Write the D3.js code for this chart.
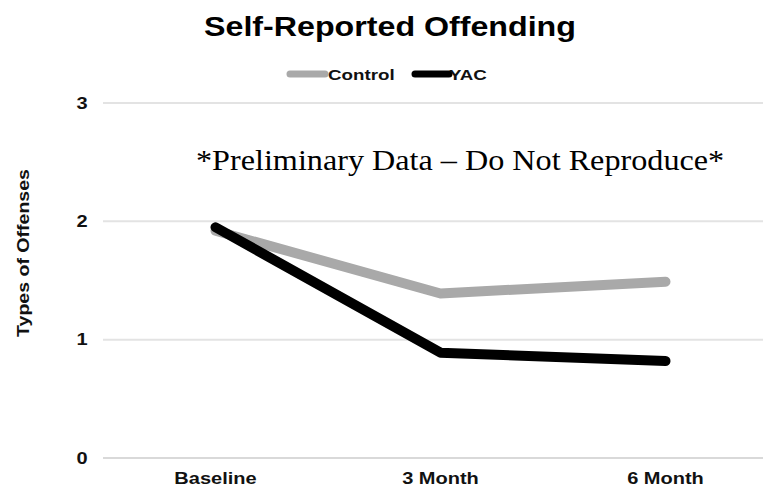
<!DOCTYPE html>
<html>
<head>
<meta charset="utf-8">
<script src="https://cdn.jsdelivr.net/npm/d3@7"></script>
<style>
  html, body { margin: 0; padding: 0; background: #fff; }
  svg { display: block; }
</style>
</head>
<body>
<svg id="chart" width="763" height="487"></svg>
<script>
// Data
const categories = ["Baseline", "3 Month", "6 Month"];
const seriesNames = ["Control", "YAC"];
const controlValues = [1.92, 1.39, 1.49];
const yacValues = [1.95, 0.89, 0.82];
const yTicks = [0, 1, 2, 3];

const colors = { Control: "#a9a9a9", YAC: "#000000" };
const seriesData = [
  { name: "Control", values: controlValues },
  { name: "YAC", values: yacValues }
];

const svg = d3.select("#chart");
const font = "'Liberation Sans', Arial, sans-serif";
const wide = 1.25; // horizontal stretch used for the chart's sans-serif labels

const x = d3.scaleBand().domain(categories).range([103, 778]);
const y = d3.scaleLinear().domain([0, 3]).range([458, 103]);

// Gridlines
svg.append("g")
  .selectAll("line")
  .data(yTicks)
  .join("line")
  .attr("x1", 103).attr("x2", 763)
  .attr("y1", d => y(d)).attr("y2", d => y(d))
  .attr("stroke", d => d === 0 ? "#d9d9d9" : "#e3e3e3")
  .attr("stroke-width", 2);

// Y tick labels
svg.append("g")
  .selectAll("text")
  .data(yTicks)
  .join("text")
  .attr("transform", d => `translate(82,${y(d)}) scale(${wide},1)`)
  .attr("dy", "0.36em")
  .attr("text-anchor", "middle")
  .attr("font-family", font).attr("font-weight", "bold").attr("font-size", 16)
  .attr("fill", "#111")
  .text(d => d);

// X category labels
svg.append("g")
  .selectAll("text")
  .data(categories)
  .join("text")
  .attr("transform", d => `translate(${x(d) + x.bandwidth() / 2},484) scale(${wide},1)`)
  .attr("text-anchor", "middle")
  .attr("font-family", font).attr("font-weight", "bold").attr("font-size", 16)
  .attr("fill", "#111")
  .text(d => d);

// Y axis title
svg.append("text")
  .attr("transform", "translate(29,253) rotate(-90) scale(1.15,1)")
  .attr("text-anchor", "middle")
  .attr("font-family", font).attr("font-weight", "bold").attr("font-size", 17)
  .attr("fill", "#111")
  .text("Types of Offenses");

// Lines
const line = d3.line()
  .x((d, i) => x(categories[i]) + x.bandwidth() / 2)
  .y(d => y(d));

svg.append("g")
  .selectAll("path")
  .data(seriesData)
  .join("path")
  .attr("d", d => line(d.values))
  .attr("fill", "none")
  .attr("stroke", d => colors[d.name])
  .attr("stroke-width", 10)
  .attr("stroke-linecap", "round")
  .attr("stroke-linejoin", "round");

// Title
svg.append("text")
  .attr("transform", "translate(390,36) scale(1.15,1)")
  .attr("text-anchor", "middle")
  .attr("font-family", font).attr("font-weight", "bold").attr("font-size", 28)
  .attr("fill", "#000")
  .text("Self-Reported Offending");

// Legend
const legendItems = [
  { name: "Control", x1: 290, x2: 325, tx: 328 },
  { name: "YAC", x1: 415, x2: 449, tx: 449 }
];
const lg = svg.append("g");
lg.selectAll("line")
  .data(legendItems)
  .join("line")
  .attr("x1", d => d.x1).attr("x2", d => d.x2)
  .attr("y1", 74).attr("y2", 74)
  .attr("stroke", d => colors[d.name])
  .attr("stroke-width", 7)
  .attr("stroke-linecap", "round");
lg.selectAll("text")
  .data(legendItems)
  .join("text")
  .attr("transform", d => `translate(${d.tx},80) scale(${wide},1)`)
  .attr("font-family", font).attr("font-weight", "bold").attr("font-size", 15)
  .attr("fill", "#111")
  .text(d => d.name);

// Annotation
svg.append("text")
  .attr("transform", "translate(196,170) scale(1.11,1)")
  .attr("font-family", "'Liberation Serif', 'Times New Roman', serif")
  .attr("font-size", 29)
  .attr("fill", "#000")
  .text("*Preliminary Data \u2013 Do Not Reproduce*");
</script>
</body>
</html>
